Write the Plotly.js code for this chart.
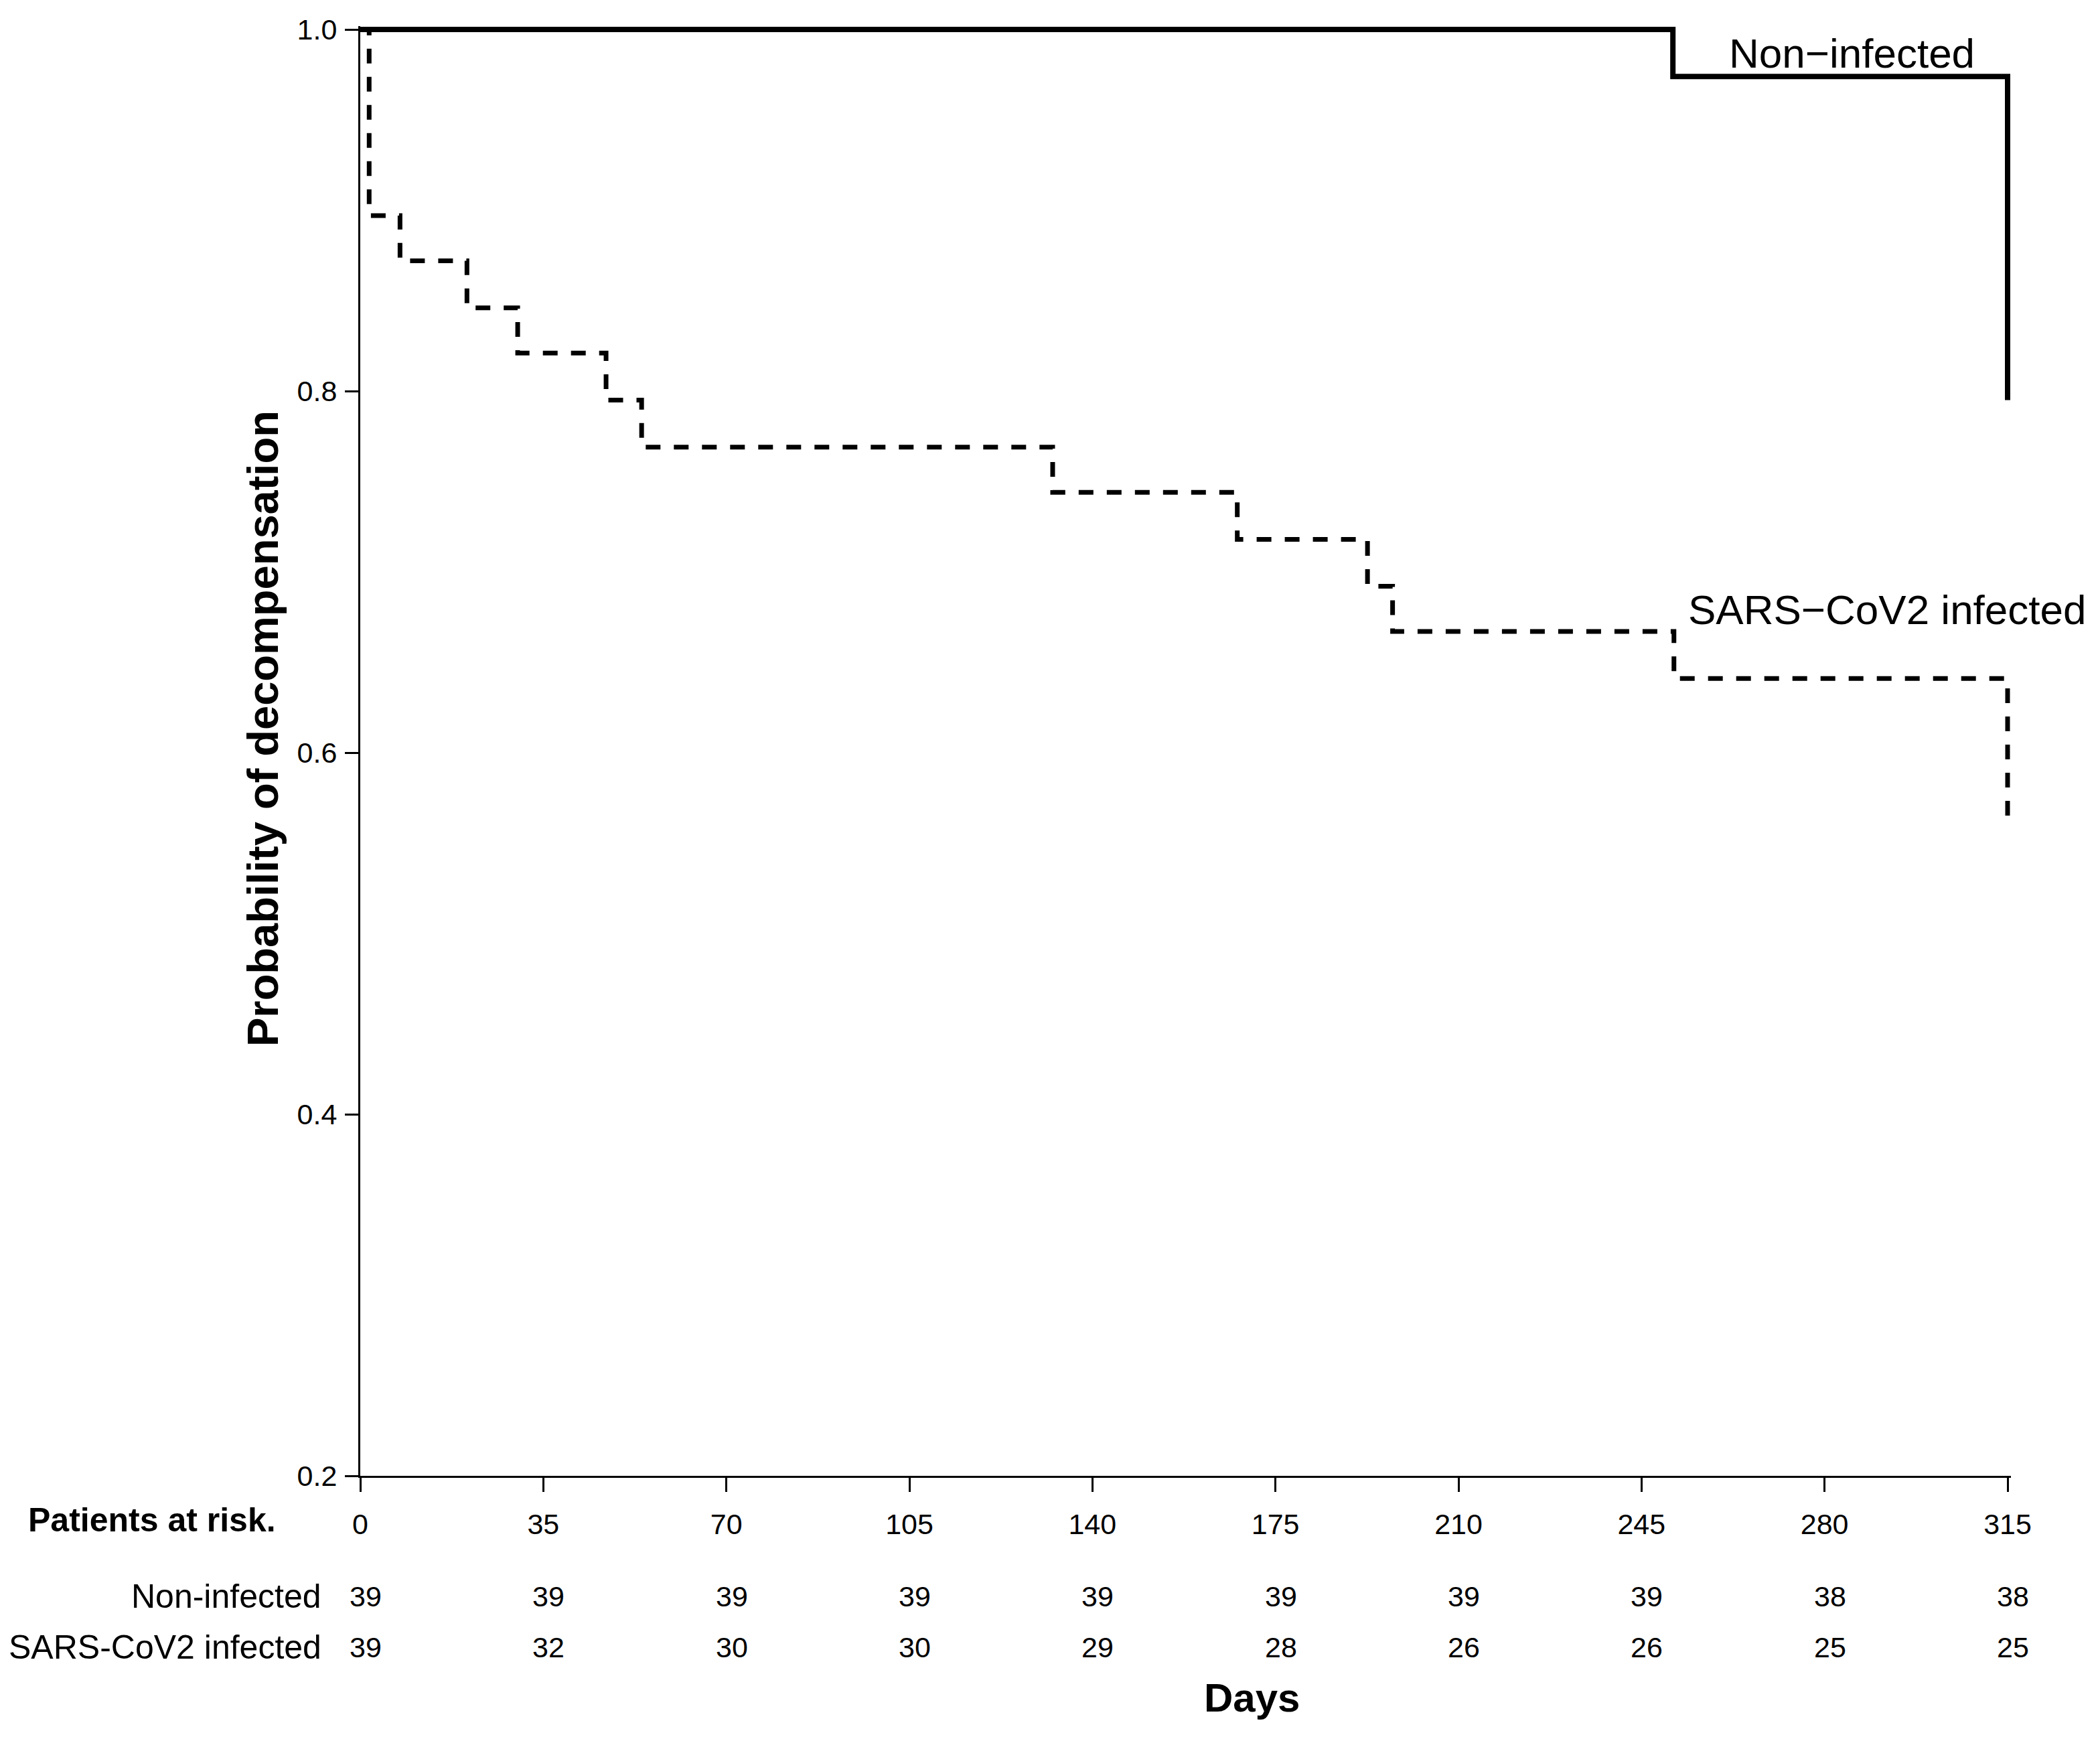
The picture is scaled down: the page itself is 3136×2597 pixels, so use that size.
<!DOCTYPE html>
<html>
<head>
<meta charset="utf-8">
<script src="https://cdn.plot.ly/plotly-3.0.1.min.js"></script>
<style>html,body{margin:0;padding:0;background:#fff;}#chart{width:3136px;height:2597px;}</style>
</head>
<body>
<div id="chart"></div>
<script>
// ---- data ----
const nonInfectedDays = [0, 251, 315];
const nonInfectedSurv = [1.0, 0.974, 0.795];
const sarsDays = [0, 1.7, 7.6, 20.4, 30.1, 47, 53.8, 132.4, 167.7, 192.6, 197.4, 251.2, 315];
const sarsSurv = [1.0, 0.897, 0.872, 0.846, 0.821, 0.795, 0.769, 0.744, 0.718, 0.692, 0.667, 0.641, 0.565];
const dayTicks = [0, 35, 70, 105, 140, 175, 210, 245, 280, 315];
const probTicks = [0.2, 0.4, 0.6, 0.8, 1.0];
const riskNonInfected = [39, 39, 39, 39, 39, 39, 39, 39, 38, 38];
const riskSars = [39, 32, 30, 30, 29, 28, 26, 26, 25, 25];
const riskRowLabels = ['Non-infected', 'SARS-CoV2 infected'];

const FONT = 'Liberation Sans, Arial, Helvetica, sans-serif';

const traces = [
  {x: nonInfectedDays, y: nonInfectedSurv, mode: 'lines', type: 'scatter',
   line: {shape: 'hv', color: '#000', width: 8}, cliponaxis: false, showlegend: false},
  {x: sarsDays, y: sarsSurv, mode: 'lines', type: 'scatter',
   line: {shape: 'hv', color: '#000', width: 7, dash: '22px,20px'}, cliponaxis: false, showlegend: false}
];

// plot area: x 0..315 -> 538..2998 px, y 0.2..1.0 -> 2204..44 px; ranges padded by ~5px so lines on the edges are not clipped
const Y_TOP = 1.00185, X_RIGHT = 315.64;
const PLOT_TOP_PX = 39, PLOT_RIGHT_PX = 2998 + 5, PLOT_BOTTOM_PX = 2204, PLOT_LEFT_PX = 538;
const plotH = PLOT_BOTTOM_PX - PLOT_TOP_PX, plotW = PLOT_RIGHT_PX - PLOT_LEFT_PX;
const py = px => (PLOT_BOTTOM_PX - px) / plotH;   // pixel row -> paper y
const pxX = px => (px - PLOT_LEFT_PX) / plotW;     // pixel col -> paper x

const annotations = [];
// curve labels
annotations.push({x: 261.5, y: 0.9867, xref: 'x', yref: 'y', text: 'Non\u2212infected', showarrow: false,
  xanchor: 'left', yanchor: 'middle', font: {family: FONT, size: 62, color: '#000'}});
annotations.push({x: 253.7, y: 0.679, xref: 'x', yref: 'y', text: 'SARS\u2212CoV2 infected', showarrow: false,
  xanchor: 'left', yanchor: 'middle', font: {family: FONT, size: 62, color: '#000'}});
// y title
annotations.push({x: 0, y: py(1088), xref: 'paper', yref: 'paper', xshift: -146, text: 'Probability of decompensation',
  textangle: -90, showarrow: false, xanchor: 'center', yanchor: 'middle',
  font: {family: FONT, size: 65, color: '#000', weight: 'bold'}});
// x title
annotations.push({x: pxX(1869), y: py(2535), xref: 'paper', yref: 'paper', text: '<b>Days</b>', showarrow: false,
  xanchor: 'center', yanchor: 'middle', font: {family: FONT, size: 60, color: '#000'}});
// risk table header
annotations.push({x: pxX(40), y: py(2270), xref: 'paper', yref: 'paper', text: '<b>Patients at risk.</b>', showarrow: false,
  xanchor: 'left', yanchor: 'middle', font: {family: FONT, size: 50, color: '#000'}});
// risk table row labels
const rowY = [py(2384), py(2460)];
riskRowLabels.forEach((lab, i) => {
  annotations.push({x: pxX(482), y: rowY[i], xref: 'paper', yref: 'paper', text: lab, showarrow: false,
    xanchor: 'right', yanchor: 'middle', font: {family: FONT, size: 50, color: '#000'}});
});
[riskNonInfected, riskSars].forEach((row, r) => {
  row.forEach((v, i) => {
    annotations.push({x: dayTicks[i], y: rowY[r], xref: 'x', yref: 'paper', xshift: 8, text: String(v), showarrow: false,
      xanchor: 'center', yanchor: 'middle', font: {family: FONT, size: 43, color: '#000'}});
  });
});

const layout = {
  width: 3136, height: 2597,
  margin: {l: PLOT_LEFT_PX, r: 3136 - PLOT_RIGHT_PX, t: PLOT_TOP_PX, b: 2597 - PLOT_BOTTOM_PX, pad: 0},
  paper_bgcolor: '#fff', plot_bgcolor: '#fff',
  showlegend: false,
  font: {family: FONT, color: '#000'},
  xaxis: {range: [0, X_RIGHT], tickvals: dayTicks, ticktext: dayTicks.map(String), ticks: 'outside', ticklen: 21,
    tickwidth: 3, tickcolor: '#000', showline: true, linewidth: 3, linecolor: '#000', showgrid: false, zeroline: false,
    tickfont: {family: FONT, size: 43, color: '#000'}, ticklabelstandoff: 11, fixedrange: true},
  yaxis: {range: [0.2, Y_TOP], tickvals: probTicks, ticktext: probTicks.map(v => v.toFixed(1)), ticks: 'outside', ticklen: 20,
    tickwidth: 3, tickcolor: '#000', showline: true, linewidth: 3, linecolor: '#000', showgrid: false, zeroline: false,
    tickfont: {family: FONT, size: 43, color: '#000'}, ticklabelstandoff: 3, fixedrange: true},
  annotations: annotations
};

Plotly.newPlot('chart', traces, layout, {displayModeBar: false, staticPlot: true});
</script>
</body>
</html>
